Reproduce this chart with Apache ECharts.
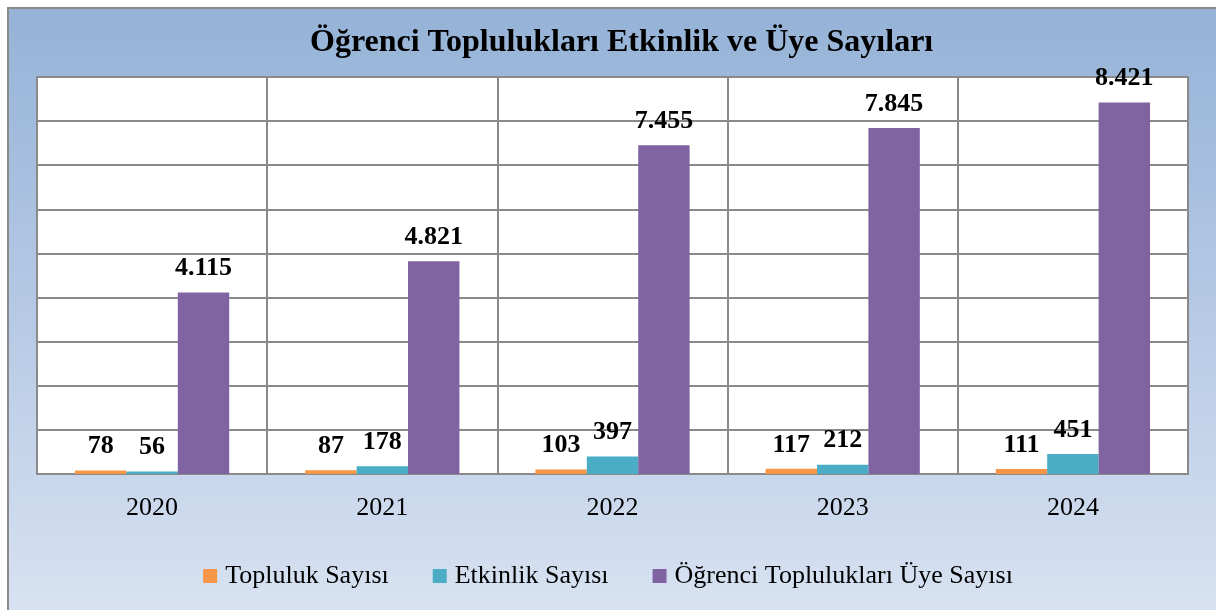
<!DOCTYPE html>
<html>
<head>
<meta charset="utf-8">
<script src="https://cdn.jsdelivr.net/npm/echarts@6/dist/echarts.min.js"></script>
<style>
  html, body { margin: 0; padding: 0; background: #fff; overflow: hidden; }
  #frame {
    position: absolute; left: 7px; top: 7px; width: 1240px; height: 640px;
    border: 2px solid #8a8a8a;
    background: linear-gradient(to bottom, #95b3d7 0%, #b4c8e4 45%, #dce5f3 100%);
  }
  #main { position: absolute; left: 0; top: 0; width: 1216px; height: 610px; }
</style>
</head>
<body>
<div id="frame"></div>
<div id="main"></div>
<script>
var years = ['2020', '2021', '2022', '2023', '2024'];
var topluluk = [78, 87, 103, 117, 111];
var etkinlik = [56, 178, 397, 212, 451];
var uye = [4115, 4821, 7455, 7845, 8421];

function trNum(v) {
    return String(v).replace(/\B(?=(\d{3})+(?!\d))/g, '.');
}

var serif = '"Liberation Serif", "Times New Roman", serif';
var labelStyle = {
    show: true,
    position: 'top',
    distance: 11,
    fontFamily: serif,
    fontWeight: 'bold',
    fontSize: 26,
    color: '#000',
    formatter: function (p) { return trNum(p.value); }
};

var myChart = echarts.init(document.getElementById('main'));
var option = {
    title: {
        text: 'Öğrenci Toplulukları Etkinlik ve Üye Sayıları',
        left: 305,
        top: 22,
        textStyle: { fontFamily: serif, fontWeight: 'bold', fontSize: 32, color: '#000' }
    },
    legend: {
        bottom: 16,
        left: 'center',
        icon: 'rect',
        itemWidth: 14,
        itemHeight: 14,
        itemGap: 44,
        textStyle: { fontFamily: serif, fontSize: 26, color: '#000', padding: [0, 0, 0, 3] },
        data: ['Topluluk Sayısı', 'Etkinlik Sayısı', 'Öğrenci Toplulukları Üye Sayısı']
    },
    grid: {
        left: 37, right: 28, top: 77, bottom: 136,
        show: true,
        backgroundColor: '#fff',
        borderColor: '#8a8a8a',
        borderWidth: 2
    },
    xAxis: {
        type: 'category',
        data: years,
        axisLine: { lineStyle: { color: '#8a8a8a', width: 2 } },
        axisTick: { show: false },
        splitLine: { show: true, lineStyle: { color: '#8a8a8a', width: 2 } },
        axisLabel: { fontFamily: serif, fontSize: 26, color: '#000', margin: 21 }
    },
    yAxis: {
        type: 'value',
        min: 0,
        max: 9000,
        interval: 1000,
        axisLabel: { show: false },
        axisLine: { show: false },
        axisTick: { show: false },
        splitLine: { show: true, lineStyle: { color: '#8a8a8a', width: 2 } }
    },
    series: [
        {
            name: 'Topluluk Sayısı', type: 'bar', data: topluluk,
            barGap: '0%', barCategoryGap: '33%',
            itemStyle: { color: '#F79646' }, label: labelStyle
        },
        {
            name: 'Etkinlik Sayısı', type: 'bar', data: etkinlik,
            itemStyle: { color: '#4BACC6' }, label: labelStyle
        },
        {
            name: 'Öğrenci Toplulukları Üye Sayısı', type: 'bar', data: uye,
            itemStyle: { color: '#8064A2' }, label: labelStyle
        }
    ]
};
myChart.setOption(option);
</script>
</body>
</html>
